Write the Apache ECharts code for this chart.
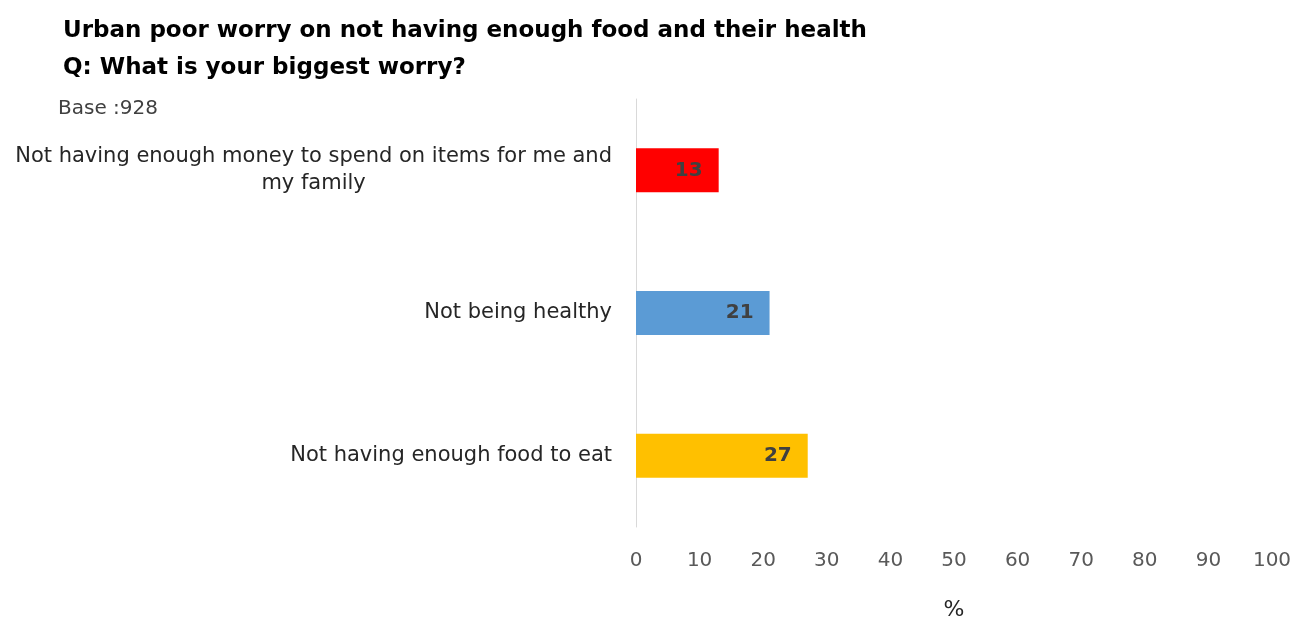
<!DOCTYPE html>
<html>
<head>
<meta charset="utf-8">
<script src="https://cdn.jsdelivr.net/npm/echarts@6/dist/echarts.min.js"></script>
<style>
  html, body {margin: 0; padding: 0; background: #fff;}
  #chart {width: 1294px; height: 621px;}
</style>
</head>
<body>
<div id="chart"></div>
<script>
// data, top to bottom as shown
const categories = [
    'Not having enough money to spend on items for me and\nmy family',
    'Not being healthy',
    'Not having enough food to eat'
];
const values = [13, 21, 27];
const barColors = ['#FF0000', '#5B9BD5', '#FFC000'];
const titleLines = [
    'Urban poor worry on not having enough food and their health',
    'Q: What is your biggest worry?'
];
const baseText = 'Base :928';

const font = 'DejaVu Sans';

const myChart = echarts.init(document.getElementById('chart'));
myChart.setOption({
    animation: false,
    title: {
        text: titleLines.join('\n'),
        left: 58,
        top: 8,
        textStyle: {
            fontFamily: font,
            fontWeight: 'bold',
            fontSize: 23,
            lineHeight: 37,
            color: '#000'
        }
    },
    graphic: [{
        type: 'text',
        left: 58,
        top: 99,
        style: {
            text: baseText,
            fontFamily: font,
            fontSize: 20,
            fill: '#404040'
        }
    }],
    grid: {left: 636, right: 22, top: 99, height: 428, containLabel: false, outerBoundsMode: 'none'},
    xAxis: {
        type: 'value',
        min: 0,
        max: 100,
        interval: 10,
        name: '%',
        nameLocation: 'middle',
        nameGap: 72,
        nameTextStyle: {fontFamily: font, fontSize: 22, color: '#262626'},
        axisLine: {show: false},
        axisTick: {show: false},
        splitLine: {show: false},
        axisLabel: {
            margin: 24,
            fontFamily: font,
            fontSize: 20,
            color: '#595959'
        }
    },
    yAxis: {
        type: 'category',
        inverse: true,
        data: categories,
        axisLine: {show: true, lineStyle: {color: '#D9D9D9', width: 1}},
        axisTick: {show: false},
        axisLabel: {
            margin: 24,
            fontFamily: font,
            fontSize: 21,
            color: '#262626',
            formatter: (v) => v.split('\n').map(l => '{c|' + l + '}').join('\n'),
            rich: {
                c: {
                    align: 'center',
                    fontFamily: font,
                    fontSize: 21,
                    lineHeight: 27,
                    color: '#262626'
                }
            }
        }
    },
    series: [{
        type: 'bar',
        data: values.map((v, i) => ({value: v, itemStyle: {color: barColors[i]}})),
        barWidth: 44,
        label: {
            show: true,
            position: 'insideRight',
            distance: 16,
            fontFamily: font,
            fontWeight: 'bold',
            fontSize: 20,
            color: '#404040'
        }
    }]
});
</script>
</body>
</html>
